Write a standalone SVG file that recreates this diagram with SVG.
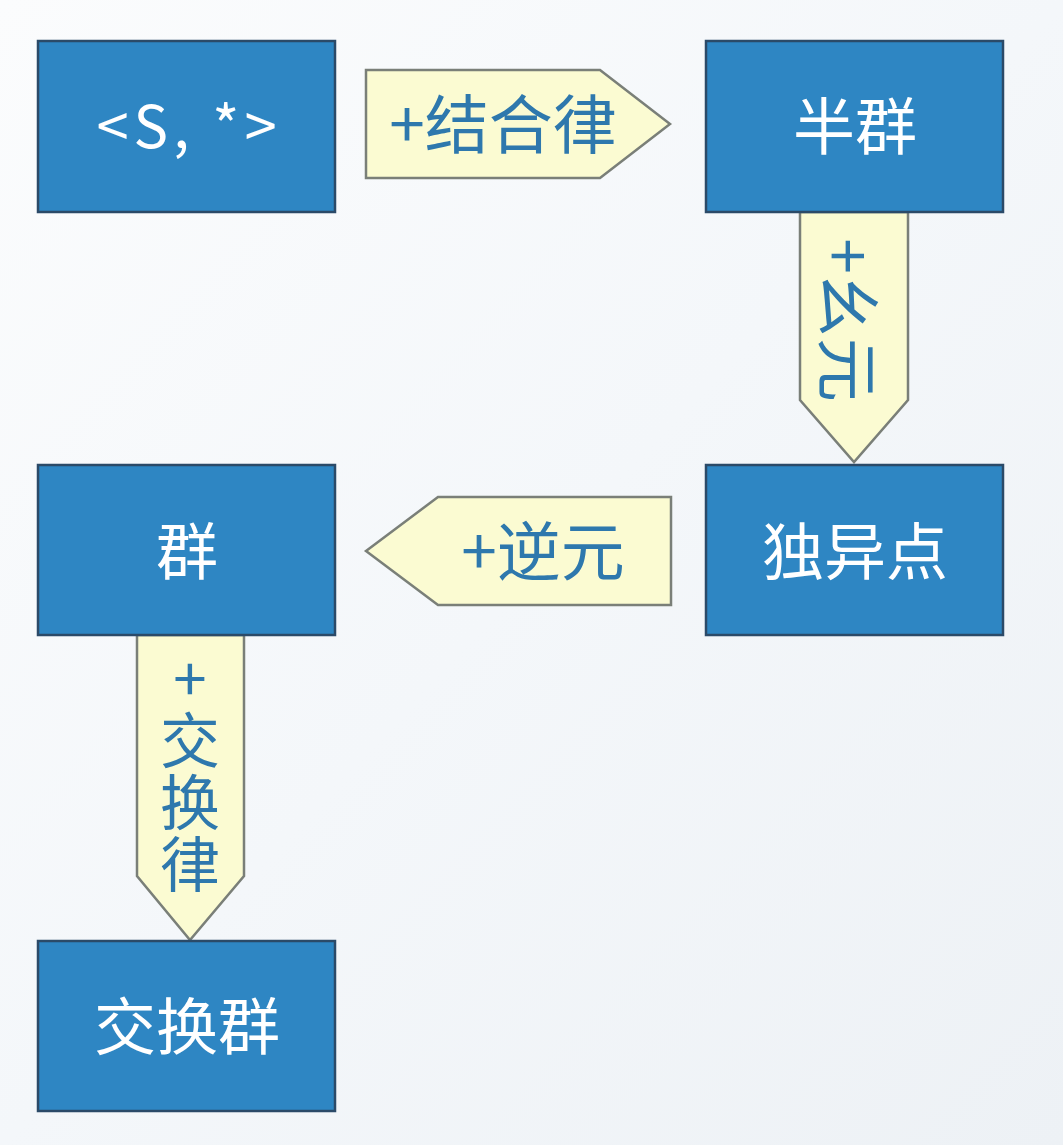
<svg xmlns="http://www.w3.org/2000/svg" width="1063" height="1145" viewBox="0 0 1063 1145">
  <defs>
    <linearGradient id="bg" x1="0" y1="0" x2="1" y2="1">
      <stop offset="0" stop-color="#fbfcfd"/>
      <stop offset="0.5" stop-color="#f4f7fa"/>
      <stop offset="1" stop-color="#edf1f5"/>
    </linearGradient>
    <style>
      .box { fill: #2e86c3; stroke: #2b4a68; stroke-width: 2.5; }
      .btxt { fill: #ffffff; font-family: "Noto Sans CJK SC", "Noto Sans", sans-serif; font-size: 62px; text-anchor: middle; }
      .arrow { fill: #fbfbd2; stroke: #7a7f78; stroke-width: 2.5; stroke-linejoin: miter; }
      .atxt { fill: #2e78ad; font-family: "Noto Sans CJK SC", "Noto Sans", sans-serif; font-size: 64px; text-anchor: middle; }
      .vtxt { writing-mode: vertical-rl; text-orientation: upright; font-size: 60px; letter-spacing: 2px; }
    </style>
  </defs>

  <rect x="0" y="0" width="1063" height="1145" fill="url(#bg)"/>

  <!-- connectors: labelled arrow shapes -->
  <g id="connectors">
    <g id="edge-assoc">
      <polygon class="arrow" points="366,70 600,70 670,124 600,178 366,178"/>
      <text class="atxt" x="503" y="148">+结合律</text>
    </g>
    <g id="edge-identity">
      <polygon class="arrow" points="800,212 908,212 908,400 854,462 800,400"/>
      <text class="atxt" x="0" y="0" dominant-baseline="central" transform="translate(852,320) rotate(90)">+幺元</text>
    </g>
    <g id="edge-inverse">
      <polygon class="arrow" points="671,497 671,605 438,605 366,551 438,497"/>
      <text class="atxt" x="543" y="575">+逆元</text>
    </g>
    <g id="edge-commute">
      <polygon class="arrow" points="137,635 244,635 244,876 190,940 137,876"/>
      <text class="atxt vtxt" x="190" y="772">+交换律</text>
    </g>
  </g>

  <!-- nodes -->
  <g id="node-magma">
    <rect class="box" x="38" y="41" width="297" height="171"/>
    <text class="btxt" x="189" y="148" style="font-size:58px; letter-spacing:5px">&lt;S, *&gt;</text>
  </g>
  <g id="node-semigroup">
    <rect class="box" x="706" y="41" width="297" height="171"/>
    <text class="btxt" x="855" y="150">半群</text>
  </g>
  <g id="node-monoid">
    <rect class="box" x="706" y="465" width="297" height="170"/>
    <text class="btxt" x="855" y="575">独异点</text>
  </g>
  <g id="node-group">
    <rect class="box" x="38" y="465" width="297" height="170"/>
    <text class="btxt" x="187" y="575">群</text>
  </g>
  <g id="node-abelian">
    <rect class="box" x="38" y="941" width="297" height="170"/>
    <text class="btxt" x="187" y="1050">交换群</text>
  </g>
</svg>
